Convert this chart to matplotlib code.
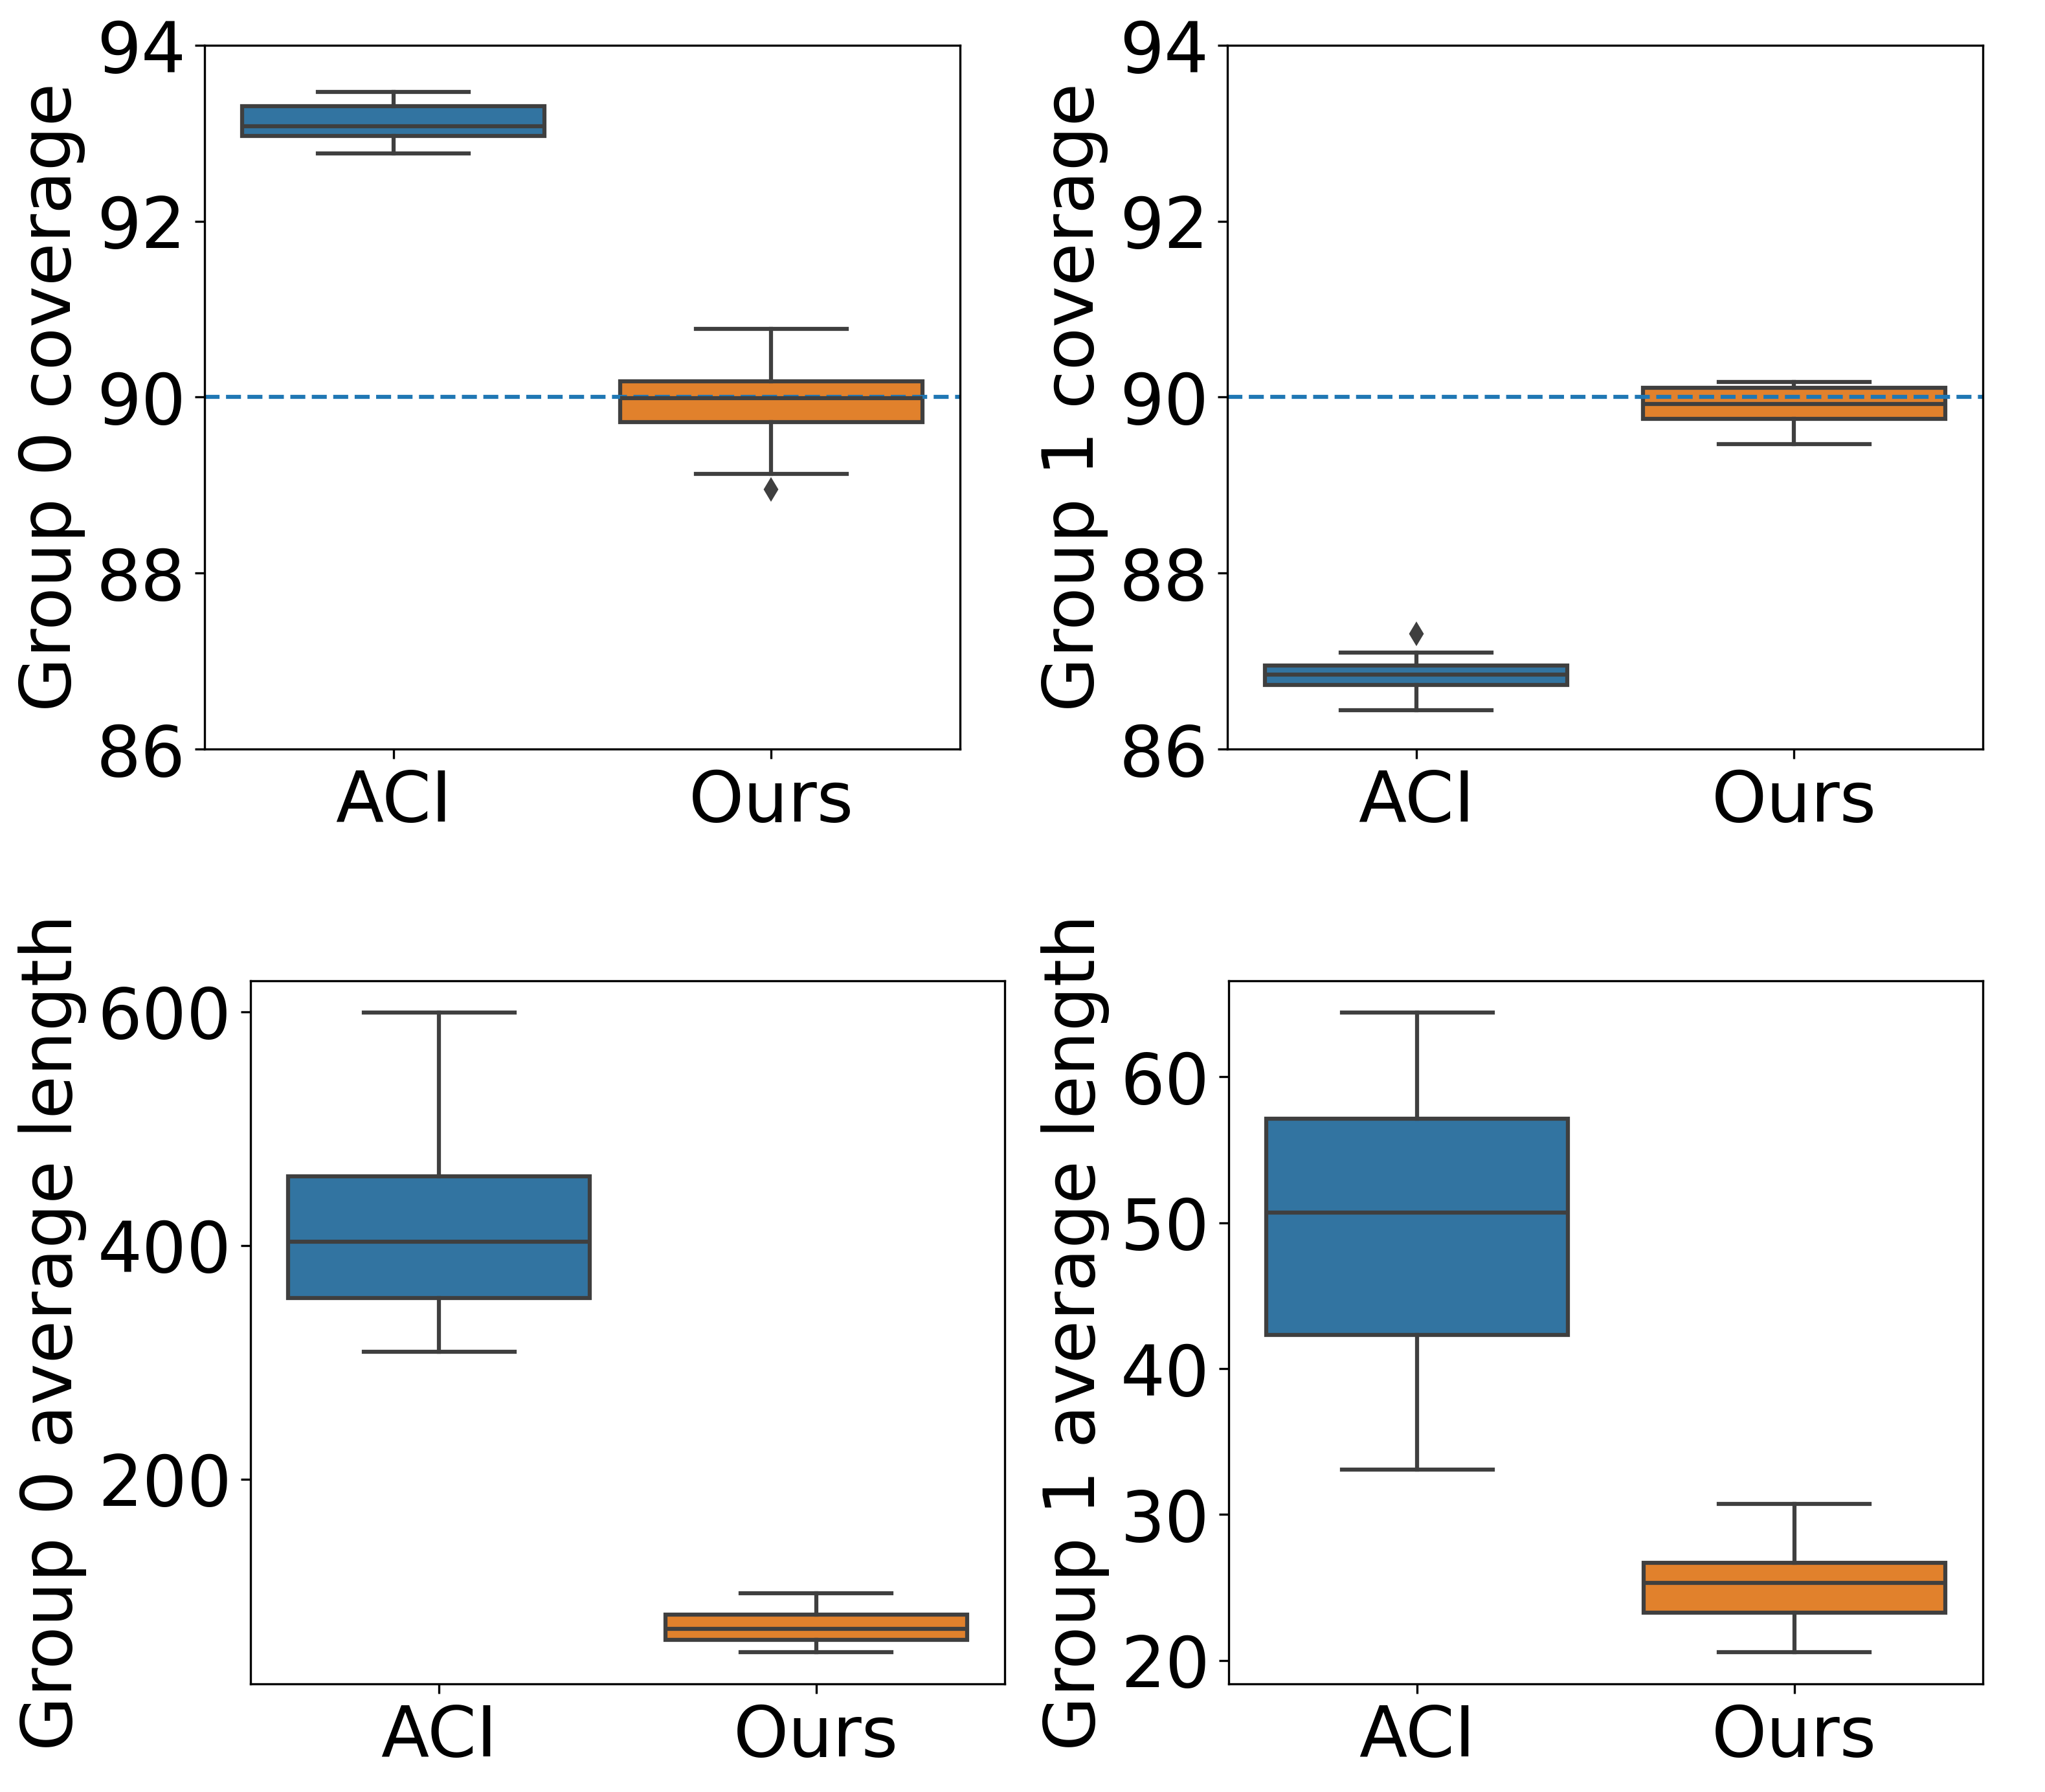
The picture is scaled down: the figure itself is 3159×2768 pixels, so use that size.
import matplotlib
matplotlib.use("Agg")
import matplotlib.pyplot as plt
import colorsys
import matplotlib.colors as mcolors

plt.rcParams['font.family'] = ['DejaVu Sans']
plt.rcParams['font.size'] = 26

methods = ["ACI", "Ours"]

# Box statistics: [ACI, Ours]
g0_cov_whislo = [92.77, 89.13]
g0_cov_q1 = [92.97, 89.72]
g0_cov_med = [93.08, 89.99]
g0_cov_q3 = [93.31, 90.18]
g0_cov_whishi = [93.47, 90.78]
g0_cov_fliers = [[], [88.95]]

g1_cov_whislo = [86.44, 89.47]
g1_cov_q1 = [86.73, 89.75]
g1_cov_med = [86.85, 89.92]
g1_cov_q3 = [86.95, 90.11]
g1_cov_whishi = [87.10, 90.17]
g1_cov_fliers = [[87.31], []]

g0_len_whislo = [309, 52]
g0_len_q1 = [355, 62.5]
g0_len_med = [403, 72]
g0_len_q3 = [459, 84]
g0_len_whishi = [599, 102]
g0_len_fliers = [[], []]

g1_len_whislo = [33.06, 20.58]
g1_len_q1 = [42.32, 23.29]
g1_len_med = [50.68, 25.32]
g1_len_q3 = [57.13, 26.68]
g1_len_whishi = [64.39, 30.71]
g1_len_fliers = [[], []]

target_coverage = 90

cov_ticks = [86, 88, 90, 92, 94]
g0_len_ticks = [200, 400, 600]
g1_len_ticks = [20, 30, 40, 50, 60]

ylabels = ["Group 0 coverage", "Group 1 coverage",
           "Group 0 average length", "Group 1 average length"]


def desaturate(c, prop):
    r, g, b = mcolors.to_rgb(c)
    h, l, s = colorsys.rgb_to_hls(r, g, b)
    return colorsys.hls_to_rgb(h, l, s * prop)


box_colors = [desaturate("#1f77b4", 0.75), desaturate("#ff7f0e", 0.75)]
gray = "#3f3f3f"
LW = 1.5


def make_stats(lo, q1, med, q3, hi, fl):
    return [dict(whislo=lo[i], q1=q1[i], med=med[i], q3=q3[i], whishi=hi[i],
                 fliers=fl[i], label=methods[i]) for i in range(len(methods))]


def draw(ax, stats):
    bp = ax.bxp(stats, positions=[0, 1], widths=0.8, patch_artist=True,
                showfliers=True,
                boxprops=dict(edgecolor=gray, linewidth=LW),
                medianprops=dict(color=gray, linewidth=LW),
                whiskerprops=dict(color=gray, linewidth=LW),
                capprops=dict(color=gray, linewidth=LW),
                flierprops=dict(marker="d", markerfacecolor=gray,
                                markeredgecolor=gray, markersize=5))
    for patch, c in zip(bp["boxes"], box_colors):
        patch.set_facecolor(c)
    ax.set_xlim(-0.5, 1.5)
    ax.set_xticks([0, 1])
    ax.set_xticklabels(methods)
    return bp


fig = plt.figure(figsize=(10.5333, 9.2267), dpi=300)
W, H = 3160, 2768


def add_ax(left, right, top, bottom):
    return fig.add_axes([left / W, 1 - bottom / H, (right - left) / W, (bottom - top) / H])


ax1 = add_ax(316, 1483, 70, 1157)
ax2 = add_ax(1896, 3063, 70, 1157)
ax3 = add_ax(387, 1552, 1515, 2601)
ax4 = add_ax(1898, 3063, 1515, 2601)

draw(ax1, make_stats(g0_cov_whislo, g0_cov_q1, g0_cov_med, g0_cov_q3, g0_cov_whishi, g0_cov_fliers))
draw(ax2, make_stats(g1_cov_whislo, g1_cov_q1, g1_cov_med, g1_cov_q3, g1_cov_whishi, g1_cov_fliers))
draw(ax3, make_stats(g0_len_whislo, g0_len_q1, g0_len_med, g0_len_q3, g0_len_whishi, g0_len_fliers))
draw(ax4, make_stats(g1_len_whislo, g1_len_q1, g1_len_med, g1_len_q3, g1_len_whishi, g1_len_fliers))

for ax in (ax1, ax2):
    ax.axhline(target_coverage, linestyle="--", color="#1f77b4", linewidth=1.5)
    ax.set_ylim(cov_ticks[0], cov_ticks[-1])
    ax.set_yticks(cov_ticks)

ax3.set_yticks(g0_len_ticks)
ax4.set_yticks(g1_len_ticks)
ax3.autoscale(axis="y")
ax4.autoscale(axis="y")

for ax, lab in zip((ax1, ax2, ax3, ax4), ylabels):
    ax.set_ylabel(lab)

fig.savefig("out.png", dpi=300)
